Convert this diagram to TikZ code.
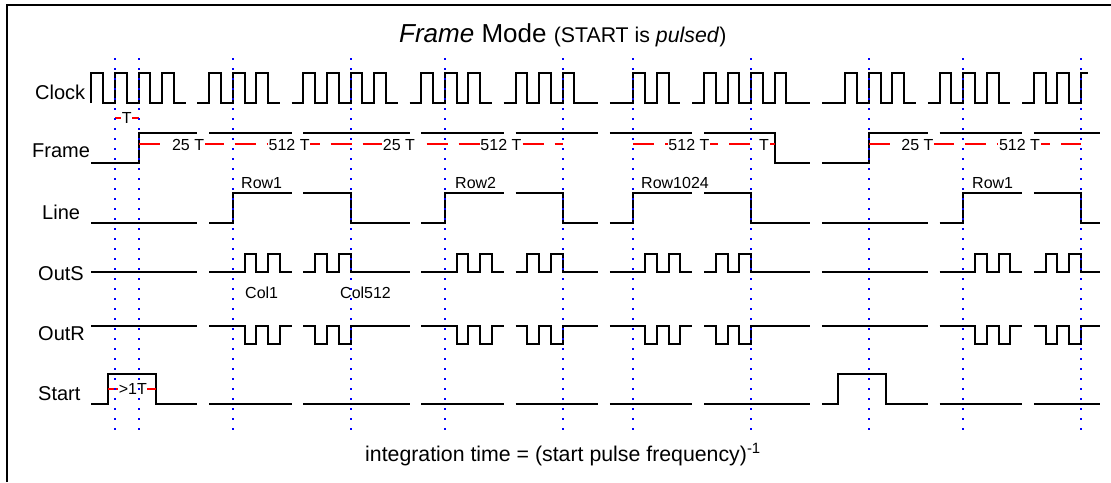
\documentclass[tikz,border=0pt]{standalone}
\usepackage{fontspec}
\setmainfont{Liberation Sans}
\newcommand\wavepiece[5]{% start, end, pulse list, base level, pulse level
  \draw[wave] (#1,#4) \foreach \pp in {#3} { -- (\pp,#4) -- (\pp,#5) -- ({\pp+0.5},#5) -- ({\pp+0.5},#4) } -- (#2,#4);}
\begin{document}
\begin{tikzpicture}[x=1pt,y=-1pt,
  wave/.style={line width=2pt, black, line join=miter},
  reddash/.style={red, line width=1.9pt, dash pattern=on 21pt off 11pt},
  redline/.style={red, line width=1.9pt},
  bluedot/.style={blue, line width=2pt, dash pattern=on 2.3pt off 7.7pt},
  sig/.style={font=\fontsize{20}{24}\selectfont, inner sep=0pt, anchor=base west},
  lab/.style={font=\fontsize{16}{19}\selectfont, inner sep=0pt, anchor=base west},
  onred/.style={font=\fontsize{16}{19}\selectfont, fill=white, inner sep=0.6pt},
]
\useasboundingbox (0,0) rectangle (1111,482);
% frame border (left and top visible)
\draw[line width=2pt] (7,482) -- (7,5) -- (1111,5);

% title
\node[anchor=base west, inner sep=0pt] (title) at (399,42)
  {\fontsize{26}{30}\selectfont\itshape Frame\upshape{} Mode \fontsize{21.3}{25}\selectfont(START is \textit{pulsed})};

% signal names
\node[sig] (lclock) at (35,99) {Clock};
\node[sig] (lframe) at (32,157) {Frame};
\node[sig] (lline)  at (42,219) {Line};
\node[sig] (louts)  at (38,280) {OutS};
\node[sig] (loutr)  at (38,340) {OutR};
\node[sig] (lstart) at (38,400) {Start};

% row / column labels
\node[lab] (row1a) at (241,188) {Row1};
\node[lab] (row2)  at (455,188) {Row2};
\node[lab] (rowl)  at (641,188) {Row1024};
\node[lab] (row1b) at (972,188) {Row1};
\node[lab] (col1)  at (245,298) {Col1};
\node[lab] (col512) at (340,298) {Col512};

% bottom formula
\node[anchor=base west, inner sep=0pt] (formula) at (365,461)
  {\fontsize{21.3}{25}\selectfont integration time = (start pulse frequency)\textsuperscript{-1}};

\begin{scope}[shift={(115,0)}, x=23.56pt]
  % ---------------- Clock ----------------
  \wavepiece{-1}{3}{-1,0,1,2}{103}{73}
  \wavepiece{3.5}{7}{4,5,6}{103}{73}
  \wavepiece{7.5}{12}{8,9,10,11}{103}{73}
  \wavepiece{12.5}{16}{13,14,15}{103}{73}
  \wavepiece{16.5}{20.5}{17,18,19}{103}{73}
  \wavepiece{21}{24}{22,23}{103}{73}
  \wavepiece{24.5}{29.5}{25,26,27,28}{103}{73}
  \wavepiece{30}{34}{31,32,33}{103}{73}
  \wavepiece{34.5}{38}{35,36,37}{103}{73}
  \draw[wave] (38.5,103) \foreach \pp in {39,40} { -- (\pp,103) -- (\pp,73) -- ({\pp+0.5},73) -- ({\pp+0.5},103) } -- (41,103) -- (41,73) -- (41.28,73);

  % ---------------- Frame ----------------
  \draw[wave] (-1,163.3) -- (1,163.3) -- (1,133.3) -- (3.5,133.3);
  \draw[wave] (4,133.3) -- (7.5,133.3);
  \draw[wave] (8,133.3) -- (12.5,133.3);
  \draw[wave] (13,133.3) -- (16.5,133.3);
  \draw[wave] (17,133.3) -- (20.5,133.3);
  \draw[wave] (21,133.3) -- (24.5,133.3);
  \draw[wave] (25,133.3) -- (28,133.3) -- (28,163.3) -- (29.5,163.3);
  \draw[wave] (30,163.3) -- (32,163.3) -- (32,133.3) -- (34.5,133.3);
  \draw[wave] (35,133.3) -- (38.5,133.3);
  \draw[wave] (39,133.3) -- (41.8,133.3);

  % ---------------- Line ----------------
  \draw[wave] (-1,223.3) -- (3.5,223.3);
  \draw[wave] (4,223.3) -- (5,223.3) -- (5,193.3) -- (7.5,193.3);
  \draw[wave] (8,193.3) -- (10,193.3) -- (10,223.3) -- (12.5,223.3);
  \draw[wave] (13,223.3) -- (14,223.3) -- (14,193.3) -- (16.5,193.3);
  \draw[wave] (17,193.3) -- (19,193.3) -- (19,223.3) -- (20.5,223.3);
  \draw[wave] (21,223.3) -- (22,223.3) -- (22,193.3) -- (24.5,193.3);
  \draw[wave] (25,193.3) -- (27,193.3) -- (27,223.3) -- (29.5,223.3);
  \draw[wave] (30,223.3) -- (34.5,223.3);
  \draw[wave] (35,223.3) -- (36,223.3) -- (36,193.3) -- (38.5,193.3);
  \draw[wave] (39,193.3) -- (41,193.3) -- (41,223.3) -- (41.8,223.3);

  % ---------------- OutS ----------------
  \draw[wave] (-1,272.3) -- (3.5,272.3);
  \wavepiece{4}{7.5}{5.5,6.5}{272.3}{254.3}
  \wavepiece{8}{12.5}{8.5,9.5}{272.3}{254.3}
  \wavepiece{13}{16.5}{14.5,15.5}{272.3}{254.3}
  \wavepiece{17}{20.5}{17.5,18.5}{272.3}{254.3}
  \wavepiece{21}{24.5}{22.5,23.5}{272.3}{254.3}
  \wavepiece{25}{29.5}{25.5,26.5}{272.3}{254.3}
  \draw[wave] (30,272.3) -- (34.5,272.3);
  \wavepiece{35}{38.5}{36.5,37.5}{272.3}{254.3}
  \wavepiece{39}{41.8}{39.5,40.5}{272.3}{254.3}

  % ---------------- OutR ----------------
  \draw[wave] (-1,326) -- (3.5,326);
  \wavepiece{4}{7.5}{5.5,6.5}{326}{344.3}
  \wavepiece{8}{12.5}{8.5,9.5}{326}{344.3}
  \wavepiece{13}{16.5}{14.5,15.5}{326}{344.3}
  \wavepiece{17}{20.5}{17.5,18.5}{326}{344.3}
  \wavepiece{21}{24.5}{22.5,23.5}{326}{344.3}
  \wavepiece{25}{29.5}{25.5,26.5}{326}{344.3}
  \draw[wave] (30,326) -- (34.5,326);
  \wavepiece{35}{38.5}{36.5,37.5}{326}{344.3}
  \wavepiece{39}{41.8}{39.5,40.5}{326}{344.3}

  % ---------------- Start ----------------
  \draw[wave] (-1,404.3) -- (-0.284,404.3) -- (-0.284,374) -- (1.74,374) -- (1.74,404.3) -- (3.5,404.3);
  \draw[wave] (4,404.3) -- (7.5,404.3);
  \draw[wave] (8,404.3) -- (12.5,404.3);
  \draw[wave] (13,404.3) -- (16.5,404.3);
  \draw[wave] (17,404.3) -- (20.5,404.3);
  \draw[wave] (21,404.3) -- (24.5,404.3);
  \draw[wave] (25,404.3) -- (29.5,404.3);
  \draw[wave] (30,404.3) -- (30.70,404.3) -- (30.70,374) -- (32.71,374) -- (32.71,404.3) -- (34.5,404.3);
  \draw[wave] (35,404.3) -- (38.5,404.3);
  \draw[wave] (39,404.3) -- (41.8,404.3);

  % ---------------- red timing marks ----------------
  \draw[reddash] (1,144.3) -- (19,144.3);
  \draw[reddash] (22,144.3) -- (28,144.3);
  \draw[reddash] (32,144.3) -- (41,144.3);
  \node[onred] (t25a)  at (3.10,145) {25 T};
  \node[onred] (t512a) at (7.39,145) {512 T};
  \node[onred] (t25b)  at (12.05,145) {25 T};
  \node[onred] (t512b) at (16.38,145) {512 T};
  \node[onred] (t512c) at (24.36,145) {512 T};
  \node[onred] (tlast) at (27.55,145) {T};
  \node[onred] (t25c)  at (34.06,145) {25 T};
  \node[onred] (t512d) at (38.39,145) {512 T};

  \draw[redline] (0,118.3) -- (1,118.3);
  \node[onred] (tper) at (0.5,118.3) {T};
  \draw[redline] (-0.284,389) -- (1.74,389);
  \node[onred] (tmin) at (0.755,389) {>1T};

  % ---------------- blue dotted markers ----------------
  \foreach \k in {0,1,5,10,14,19,22,27,32,36,41}
    \draw[bluedot] (\k,58) -- (\k,434);
\end{scope}
\end{tikzpicture}
\end{document}
